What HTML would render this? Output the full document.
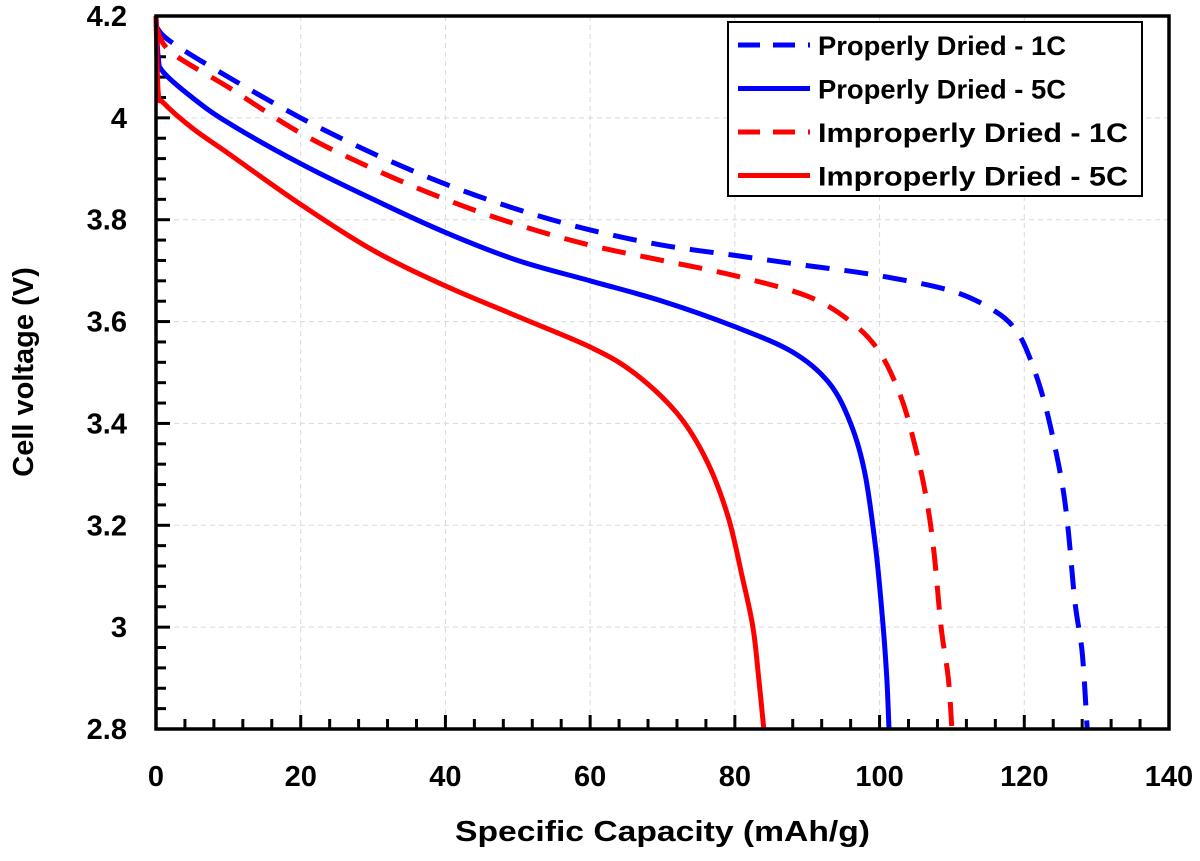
<!DOCTYPE html>
<html><head><meta charset="utf-8"><style>
body{margin:0;background:#fff}
svg text{font-family:"Liberation Sans",Arial,sans-serif;font-weight:bold;fill:#000}
</style></head><body>
<svg id="c" width="1200" height="856"></svg>
<script>
const xTicks=[0,20,40,60,80,100,120,140];
const yTicks=[2.8,3,3.2,3.4,3.6,3.8,4,4.2];
const yTickLabels=["2.8","3","3.2","3.4","3.6","3.8","4","4.2"];
const seriesNames=["Properly Dried - 1C","Properly Dried - 5C","Improperly Dried - 1C","Improperly Dried - 5C"];
const p1cX=[0,2,10,20,30,40,50,60,70,80,90,100,110,116,119,121,123,125,126,127,128,128.7];
const p1cY=[4.18,4.15,4.08,4.0,3.93,3.87,3.82,3.78,3.75,3.73,3.71,3.69,3.66,3.62,3.58,3.52,3.43,3.3,3.2,3.05,2.95,2.8];
const p5cX=[0,0.3,1,5,10,20,30,40,50,60,70,80,88,93,96,98,99.5,100.5,101,101.3];
const p5cY=[4.2,4.12,4.09,4.04,3.99,3.91,3.84,3.775,3.72,3.68,3.64,3.59,3.54,3.48,3.4,3.3,3.15,3.0,2.9,2.8];
const i1cX=[0,2,10,20,30,40,50,60,70,80,90,96,100,103,105,106.5,107.5,108.5,109.5,110];
const i1cY=[4.18,4.13,4.06,3.97,3.9,3.84,3.79,3.75,3.72,3.69,3.65,3.6,3.54,3.45,3.35,3.25,3.15,3.0,2.9,2.8];
const i5cX=[0,0.3,1,5,10,20,30,40,50,60,66,72,76,79,81,82.5,83.3,84];
const i5cY=[4.2,4.05,4.03,3.98,3.93,3.83,3.74,3.67,3.61,3.55,3.5,3.42,3.33,3.22,3.1,3.0,2.9,2.8];

const L=156,R=1169,T=16,B=729;
const sx=v=>L+(v-0)/(140-0)*(R-L);
const sy=v=>B-(v-2.8)/(4.2-2.8)*(B-T);
const svg=document.getElementById('c');
const NS="http://www.w3.org/2000/svg";
function mk(t,a,p){const e=document.createElementNS(NS,t);for(const k in a)e.setAttribute(k,a[k]);(p||svg).appendChild(e);return e;}
function smooth(pts){
 let d='M'+pts[0][0].toFixed(1)+','+pts[0][1].toFixed(1);
 for(let i=0;i<pts.length-1;i++){
  const p0=pts[Math.max(0,i-1)],p1=pts[i],p2=pts[i+1],p3=pts[Math.min(pts.length-1,i+2)];
  const c1=[p1[0]+(p2[0]-p0[0])/6,p1[1]+(p2[1]-p0[1])/6];
  const c2=[p2[0]-(p3[0]-p1[0])/6,p2[1]-(p3[1]-p1[1])/6];
  d+=' C'+c1[0].toFixed(1)+','+c1[1].toFixed(1)+' '+c2[0].toFixed(1)+','+c2[1].toFixed(1)+' '+p2[0].toFixed(1)+','+p2[1].toFixed(1);
 }
 return d;
}

xTicks.forEach(v=>{if(v>0&&v<140){const g=mk('line',{x1:sx(v),x2:sx(v),y1:T,y2:B,stroke:'#d9d9d9','stroke-dasharray':'5,4','stroke-width':1});

}});
yTicks.forEach(v=>{if(v>2.8&&v<4.2){const g=mk('line',{x1:L,x2:R,y1:sy(v),y2:sy(v),stroke:'#d9d9d9','stroke-dasharray':'5,4','stroke-width':1});

}});
for(let v=0;v<=140;v+=4){const t=mk('line',{x1:sx(v),x2:sx(v),y1:B,y2:B-(v%20==0?14:10),stroke:'#000','stroke-width':3});

}
for(let i=0;i<=35;i++){const v=2.8+i*0.04;const t=mk('line',{x1:L,x2:L+(i%5==0?14:10),y1:sy(v),y2:sy(v),stroke:'#000','stroke-width':3});

}
const series=[[p1cX,p1cY,'#0000ff',true],[p5cX,p5cY,'#0000ff',false],[i1cX,i1cY,'#ff0000',true],[i5cX,i5cY,'#ff0000',false]];
series.forEach((s,k)=>{
 const pts=s[0].map((x,i)=>[sx(x),sy(s[1][i])]);
 const a={d:smooth(pts),fill:'none',stroke:s[2],'stroke-width':5,'stroke-linejoin':'round'};
 if(s[3]){a['stroke-dasharray']='24,15';}
 const p=mk('path',a);
 
 
});
const fr=mk('rect',{x:L,y:T,width:R-L,height:B-T,fill:'none',stroke:'#000','stroke-width':3.5});


xTicks.forEach(v=>{const t=mk('text',{x:sx(v),y:786,'text-anchor':'middle','font-size':29});t.textContent=v;

});
yTicks.forEach((v,i)=>{const t=mk('text',{x:127,y:sy(v)+10,'text-anchor':'end','font-size':29});t.textContent=yTickLabels[i];

});
const xt=mk('text',{x:455,y:841,'font-size':29,textLength:415,lengthAdjust:'spacingAndGlyphs'});xt.textContent='Specific Capacity (mAh/g)';


const yt=mk('text',{x:0,y:0,'text-anchor':'middle','font-size':29,transform:'translate(33,372) rotate(-90)'});yt.textContent='Cell voltage (V)';


const lg=mk('g',{});


mk('rect',{x:728,y:22,width:414,height:174,fill:'#fff',stroke:'#000','stroke-width':2},lg);
const legW=[248,248,310,310];
series.forEach((s,k)=>{const y=45+k*43.5;
 const a={x1:738,x2:810,y1:y,y2:y,stroke:s[2],'stroke-width':5};if(s[3])a['stroke-dasharray']='22,13';
 const ln=mk('line',a,lg);
 
 
 const t=mk('text',{x:818,y:y+10,'font-size':27,textLength:legW[k],lengthAdjust:'spacingAndGlyphs'},lg);t.textContent=seriesNames[k];
 
 
});
</script>
</body></html>
